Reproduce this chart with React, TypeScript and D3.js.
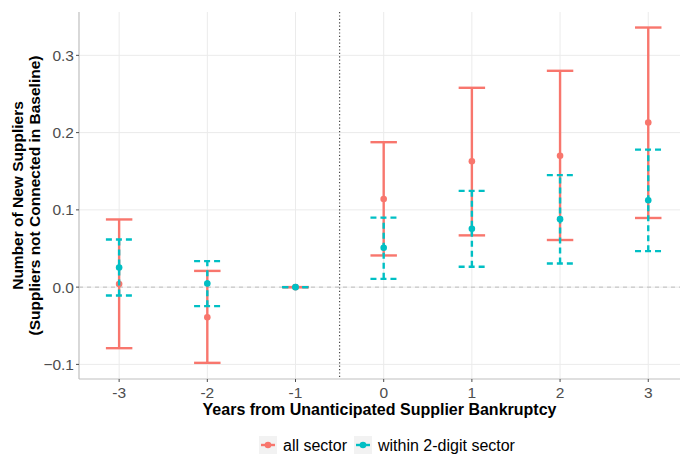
import React from 'react'
import * as d3 from 'd3'

const years = [-3, -2, -1, 0, 1, 2, 3]

const allEstimate = [0.004, -0.039, 0, 0.114, 0.163, 0.17, 0.213]
const allUpper = [0.0876, 0.021, 0, 0.1876, 0.258, 0.28, 0.336]
const allLower = [-0.079, -0.098, 0, 0.041, 0.067, 0.061, 0.0895]

const withinEstimate = [0.0255, 0.0048, 0, 0.051, 0.0755, 0.088, 0.1125]
const withinUpper = [0.0617, 0.0336, 0, 0.09, 0.1246, 0.145, 0.178]
const withinLower = [-0.0108, -0.0246, 0, 0.0107, 0.0263, 0.0306, 0.0466]

const yTicks = [-0.1, 0, 0.1, 0.2, 0.3]

const seriesNames = ['all sector', 'within 2-digit sector']
const seriesColors = ['#F8766D', '#00BFC4']

const width = 680
const height = 455
const panel = { left: 79, right: 680, top: 12, bottom: 379 }
const font = '"Liberation Sans", Arial, Helvetica, sans-serif'

const series = [
  { name: seriesNames[0], color: seriesColors[0], dash: null, est: allEstimate, lo: allLower, hi: allUpper },
  { name: seriesNames[1], color: seriesColors[1], dash: '6,4', est: withinEstimate, lo: withinLower, hi: withinUpper },
]

export default function App() {
  const x = d3
    .scaleLinear()
    .domain([-3.455, 3.36])
    .range([panel.left, panel.right])

  const y = d3
    .scaleLinear()
    .domain([-0.1189, 0.3561])
    .range([panel.bottom, panel.top])

  const capHalf = x(0.15) - x(0)

  return (
    <svg width={width} height={height} style={{ position: 'absolute', left: 0, top: 0, background: 'white' }}>
      {/* grid */}
      {yTicks.map((t) => (
        <line key={'g' + t} x1={panel.left} x2={panel.right} y1={y(t)} y2={y(t)} stroke="#ebebeb" strokeWidth={1} />
      ))}
      {years.map((yr) => (
        <line key={'gx' + yr} x1={x(yr)} x2={x(yr)} y1={panel.top} y2={panel.bottom} stroke="#ebebeb" strokeWidth={1} />
      ))}

      {/* reference lines */}
      <line x1={panel.left} x2={panel.right} y1={y(0)} y2={y(0)} stroke="#bdbdbd" strokeWidth={1} strokeDasharray="4,4" />
      <line x1={x(-0.5)} x2={x(-0.5)} y1={panel.top} y2={panel.bottom} stroke="#444" strokeWidth={1.2} strokeDasharray="1.2,2.2" />

      {/* axes */}
      <line x1={panel.left} x2={panel.left} y1={panel.top} y2={panel.bottom} stroke="#bfbfbf" strokeWidth={1.2} />
      <line x1={panel.left} x2={panel.right} y1={panel.bottom} y2={panel.bottom} stroke="#bfbfbf" strokeWidth={1.2} />
      {yTicks.map((t) => (
        <g key={'yt' + t}>
          <line x1={panel.left - 3} x2={panel.left} y1={y(t)} y2={y(t)} stroke="#4d4d4d" />
          <text x={panel.left - 5} y={y(t) + 5.5} textAnchor="end" fontFamily={font} fontSize={15.5} fill="#4d4d4d">
            {d3.format('.1f')(t)}
          </text>
        </g>
      ))}
      {years.map((yr) => (
        <g key={'xt' + yr}>
          <line x1={x(yr)} x2={x(yr)} y1={panel.bottom} y2={panel.bottom + 3} stroke="#4d4d4d" />
          <text x={x(yr)} y={panel.bottom + 19} textAnchor="middle" fontFamily={font} fontSize={15.5} fill="#4d4d4d">
            {yr}
          </text>
        </g>
      ))}

      {/* error bars and points */}
      {series.map((s) => (
        <g key={s.name}>
          {years.map((yr, i) => (
            <g key={yr}>
              <line x1={x(yr)} x2={x(yr)} y1={y(s.lo[i])} y2={y(s.hi[i])} stroke={s.color} strokeWidth={2.4} strokeDasharray={s.dash ?? undefined} />
              <line x1={x(yr) - capHalf} x2={x(yr) + capHalf} y1={y(s.hi[i])} y2={y(s.hi[i])} stroke={s.color} strokeWidth={2.4} strokeDasharray={s.dash ?? undefined} />
              <line x1={x(yr) - capHalf} x2={x(yr) + capHalf} y1={y(s.lo[i])} y2={y(s.lo[i])} stroke={s.color} strokeWidth={2.4} strokeDasharray={s.dash ?? undefined} />
              <circle cx={x(yr)} cy={y(s.est[i])} r={3.3} fill={s.color} />
            </g>
          ))}
        </g>
      ))}

      {/* axis titles */}
      <text x={(panel.left + panel.right) / 2} y={415} textAnchor="middle" fontFamily={font} fontSize={16} fontWeight="bold" fill="black">
        Years from Unanticipated Supplier Bankruptcy
      </text>
      <text transform={`translate(23, ${(panel.top + panel.bottom) / 2}) rotate(-90)`} textAnchor="middle" fontFamily={font} fontSize={15.5} fontWeight="bold" fill="black">
        Number of New Suppliers
      </text>
      <text transform={`translate(40, ${(panel.top + panel.bottom) / 2}) rotate(-90)`} textAnchor="middle" fontFamily={font} fontSize={15.5} fontWeight="bold" fill="black">
        (Suppliers not Connected in Baseline)
      </text>

      {/* legend */}
      {series.map((s, i) => {
        const kx = [259, 354][i]
        return (
          <g key={'lg' + s.name}>
            <rect x={kx} y={436} width={18} height={18} fill="#f2f2f2" />
            <line x1={kx + 2} x2={kx + 16} y1={445} y2={445} stroke={s.color} strokeWidth={2.4} />
            <circle cx={kx + 9} cy={445} r={3.3} fill={s.color} />
            <text x={kx + 24} y={450.5} fontFamily={font} fontSize={16} fill="black">
              {s.name}
            </text>
          </g>
        )
      })}
    </svg>
  )
}
